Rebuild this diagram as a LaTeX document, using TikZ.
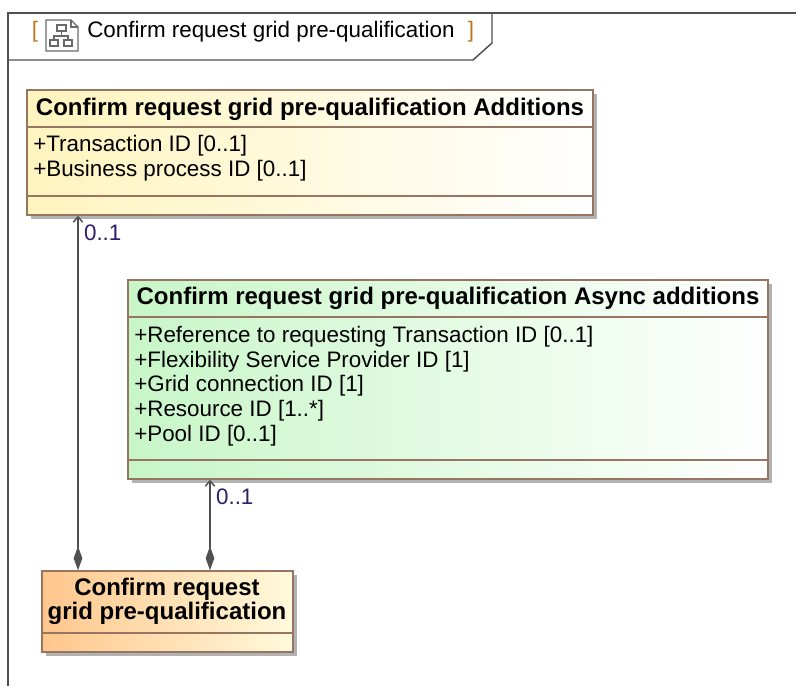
\documentclass[tikz,border=0pt]{standalone}
\usepackage{fontspec}
\setmainfont{Liberation Sans}
\usetikzlibrary{arrows.meta, fit, shadows}

\definecolor{borde}{RGB}{150,118,96}
\definecolor{linea}{RGB}{80,80,80}
\definecolor{amarillo}{RGB}{255,244,190}
\definecolor{verde}{RGB}{200,246,200}
\definecolor{naranja}{RGB}{255,198,140}
\definecolor{claro}{RGB}{255,250,220}
\definecolor{corchete}{RGB}{190,120,30}
\definecolor{multip}{RGB}{45,30,105}

\begin{document}
\begin{tikzpicture}[x=0.75pt, y=-0.75pt,
    marco/.style={draw=linea, line width=1.1pt},
    clase/.style={draw=borde, line width=1.1pt, inner sep=0pt,
        drop shadow={shadow xshift=3pt, shadow yshift=-3pt, fill=black!30, opacity=1}},
    sep/.style={draw=borde, line width=1.1pt},
    titclase/.style={font=\bfseries\fontsize{18}{21}\selectfont, inner sep=0pt},
    atrib/.style={font=\fontsize{16.8}{18.5}\selectfont, align=left, anchor=west, inner sep=0pt},
    comp/.style={draw=linea, line width=1.1pt,
        {Diamond[length=18pt, width=6.5pt]}-{Straight Barb[length=4pt, width=7pt]}},
    mult/.style={font=\fontsize{16.8}{18.5}\selectfont, text=multip, inner sep=0pt}]

    \useasboundingbox (0,0) rectangle (796,686);

    % Marco del diagrama
    \draw[marco] (8,686) -- (8,13) -- (796,13);
    \draw[marco] (8,60) -- (473,60) -- (492,43) -- (492,13);
    \node[font=\fontsize{16.8}{18.5}\selectfont, text=corchete, inner sep=0pt] (abre) at (35,32) {[};
    \node[font=\fontsize{16.8}{18.5}\selectfont, text=corchete, inner sep=0pt] (cierra) at (471,32) {]};
    \node[font=\fontsize{16.8}{18.5}\selectfont, anchor=west, inner sep=0pt] (titulo) at (87,32)
        {Confirm request grid pre-qualification};

    % Icono del diagrama
    \draw[linea!85, line width=0.8pt, fill=white] (46,20) -- (71,20) -- (78,27) -- (78,51) -- (46,51) -- cycle;
    \draw[linea!85, line width=0.8pt] (71,20) -- (71,27) -- (78,27);
    \draw[linea!85, line width=0.8pt] (57,25) rectangle (66,31);
    \draw[linea!85, line width=0.8pt] (50,40) rectangle (58,46);
    \draw[linea!85, line width=0.8pt] (64,40) rectangle (72,46);
    \draw[linea!85, line width=0.8pt] (61.5,31) -- (61.5,36) (54,40) -- (54,36) -- (68,36) -- (68,40);

    % Clase Additions
    \node[clase, left color=amarillo, right color=white, fit={(27,90) (593,215)}] (adic) {};
    \draw[sep] (adic.west |- 0,127) -- (adic.east |- 0,127);
    \draw[sep] (adic.west |- 0,196) -- (adic.east |- 0,196);
    \node[titclase] (adictit) at (310,109) {Confirm request grid pre-qualification Additions};
    \node[atrib] (adicatr) at (33,158) {+Transaction ID [0..1]\\+Business process ID [0..1]};

    % Clase Async additions
    \node[clase, left color=verde, right color=white, fit={(128,280) (768,479)}] (asin) {};
    \draw[sep] (asin.west |- 0,317) -- (asin.east |- 0,317);
    \draw[sep] (asin.west |- 0,460) -- (asin.east |- 0,460);
    \node[titclase] (asintit) at (448,298) {Confirm request grid pre-qualification Async additions};
    \node[atrib] (asinatr) at (134,386) {+Reference to requesting Transaction ID [0..1]\\
        +Flexibility Service Provider ID [1]\\+Grid connection ID [1]\\
        +Resource ID [1..*]\\+Pool ID [0..1]};

    % Clase principal
    \node[clase, left color=naranja, right color=claro, fit={(42,571) (293,652)}] (conf) {};
    \draw[sep] (conf.west |- 0,633) -- (conf.east |- 0,633);
    \node[titclase, align=center, font=\bfseries\fontsize{18}{18.2}\selectfont] (conftit) at (167,601)
        {Confirm request\\grid pre-qualification};

    % Composiciones
    \draw[comp] (conf.north -| 78,0) -- (adic.south -| 78,0)
        node[mult, anchor=north west, xshift=4pt, yshift=-6pt] (m1) {0..1};
    \draw[comp] (conf.north -| 210,0) -- (asin.south -| 210,0)
        node[mult, anchor=north west, xshift=4pt, yshift=-6pt] (m2) {0..1};
\end{tikzpicture}
\end{document}
